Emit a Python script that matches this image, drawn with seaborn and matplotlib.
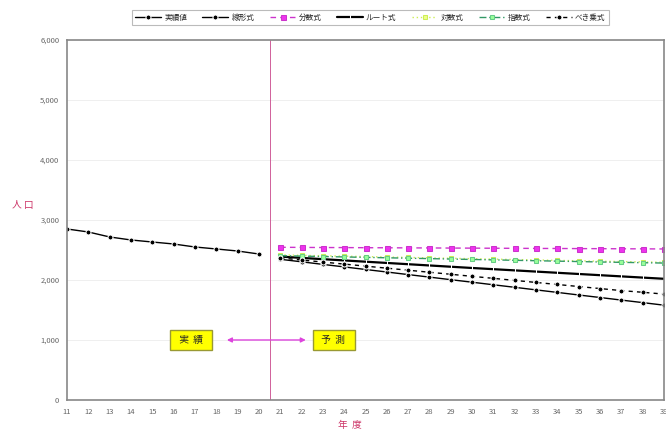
import matplotlib
matplotlib.use("Agg")
import matplotlib.pyplot as plt
import seaborn as sns
import pandas as pd

sns.set_theme(style="white")
plt.rcParams['font.family'] = ['Noto Sans CJK JP', 'DejaVu Sans']

# 年度 (平成)
actual_years = list(range(11, 21))
proj_years = list(range(21, 40))

actual = [2850, 2800, 2717, 2667, 2633, 2600, 2550, 2517, 2483, 2433]

linear = [2345, 2303, 2260, 2218, 2175, 2133, 2090, 2048, 2005, 1963,
          1920, 1878, 1835, 1793, 1750, 1708, 1665, 1623, 1580]
fraction = [2545, 2543, 2541, 2540, 2538, 2537, 2535, 2534, 2532, 2531,
            2529, 2528, 2526, 2525, 2523, 2522, 2520, 2519, 2517]
root = [2390, 2368, 2347, 2326, 2305, 2284, 2263, 2242, 2221, 2200,
        2180, 2160, 2140, 2120, 2100, 2080, 2060, 2040, 2020]
log_fit = [2418, 2411, 2404, 2397, 2390, 2383, 2376, 2369, 2362, 2355,
           2348, 2341, 2334, 2327, 2320, 2313, 2307, 2301, 2295]
expo = [2405, 2398, 2391, 2384, 2377, 2370, 2363, 2356, 2349, 2342,
        2335, 2328, 2321, 2314, 2307, 2300, 2294, 2288, 2282]
power = [2367, 2333, 2299, 2265, 2231, 2197, 2163, 2129, 2095, 2061,
         2027, 1993, 1959, 1925, 1891, 1857, 1823, 1795, 1765]

series_names = ["実績値", "線形式", "分数式", "ルート式", "対数式", "指数式", "べき乗式"]
y_ticks = [0, 1000, 2000, 3000, 4000, 5000, 6000]
x_ticks = list(range(11, 40))

fig = plt.figure(figsize=(6.66, 4.37), dpi=100)
ax = fig.add_axes([0.1006, 0.0847, 0.8964, 0.8238])

styles = [
    (actual_years, actual, dict(color="black", linestyle="-", marker="o", markersize=3.6, linewidth=1.0)),
    (proj_years, linear, dict(color="black", linestyle="-", marker="o", markersize=3.6, linewidth=1.0)),
    (proj_years, fraction, dict(color="#cc33cc", linestyle=(0, (4, 3)), marker="s", markersize=3.6,
                                markerfacecolor="#ee33ee", markeredgecolor="#cc33cc", linewidth=1.0)),
    (proj_years, root, dict(color="black", linestyle="-", marker="|", markersize=5, linewidth=1.6)),
    (proj_years, log_fit, dict(color="#ccee55", linestyle=(0, (1, 2)), marker="s", markersize=3.2,
                               markerfacecolor="#eeff88", markeredgecolor="#ccee55", linewidth=1.0)),
    (proj_years, expo, dict(color="#339966", linestyle=(0, (5, 2, 1, 2)), marker="s", markersize=3.2,
                            markerfacecolor="#99ff99", markeredgecolor="#66cc88", linewidth=1.0)),
    (proj_years, power, dict(color="black", linestyle=(0, (3, 3)), marker="o", markersize=3.6, linewidth=1.0)),
]

for name, (xs, ys, kw) in zip(series_names, styles):
    df = pd.DataFrame({"年度": xs, "人口": ys})
    sns.lineplot(data=df, x="年度", y="人口", ax=ax, label=name, **kw)

ax.set_xlim(11, 39)
ax.set_ylim(0, 6000)
ax.set_xticks(x_ticks)
ax.set_xticklabels([str(v) for v in x_ticks])
ax.set_yticks(y_ticks)
ax.set_yticklabels([f"{v:,}" for v in y_ticks])
ax.tick_params(axis="both", labelsize=5.5, colors="#666666", length=2)
ax.yaxis.grid(True, color="#ececec", linewidth=0.6)
for sp in ax.spines.values():
    sp.set_color("#888888")
    sp.set_linewidth(1.2)

ax.set_xlabel("")
ax.set_ylabel("")
fig.text(0.034, 0.53, "人 口", color="#cc3366", fontsize=7, ha="center", va="center")
fig.text(0.525, 0.027, "年  度", color="#cc3366", fontsize=7, ha="center", va="center")

# 実績と予測の境界
ax.axvline(20.5, color="#d0609a", linewidth=0.7)

box = dict(boxstyle="square,pad=0.5", facecolor="#ffff00", edgecolor="#999933", linewidth=1)
ax.text(16.8, 1000, "  実  績  ", fontsize=7, ha="center", va="center", bbox=box)
ax.text(23.5, 1000, "  予  測  ", fontsize=7, ha="center", va="center", bbox=box)
ax.annotate("", xy=(18.5, 1000), xytext=(22.2, 1000),
            arrowprops=dict(arrowstyle="<|-|>", color="#dd44dd", linewidth=1, mutation_scale=7,
                            shrinkA=0, shrinkB=0))

leg = ax.legend(loc="upper center", bbox_to_anchor=(0.556, 0.985), bbox_transform=fig.transFigure,
                ncol=7, fontsize=5.5, frameon=True, fancybox=False, edgecolor="#aaaaaa",
                handlelength=3.4, columnspacing=2.0, handletextpad=0.4, borderpad=0.45)
leg.get_frame().set_linewidth(0.8)

fig.savefig("out.png", dpi=100)
